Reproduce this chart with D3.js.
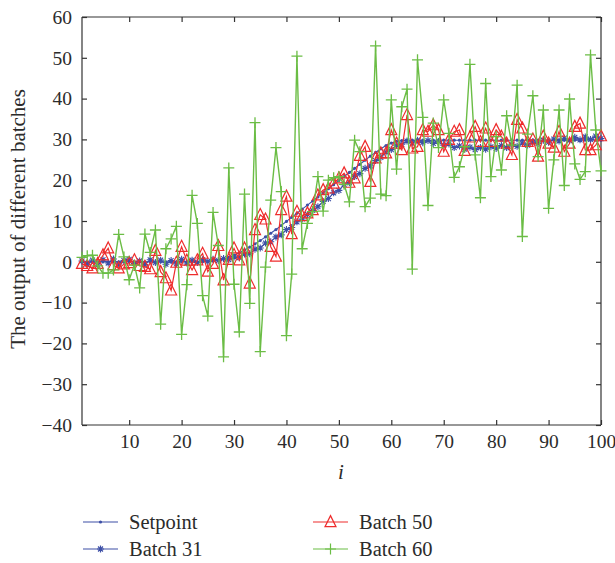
<!DOCTYPE html>
<html><head><meta charset="utf-8">
<script src="https://cdn.jsdelivr.net/npm/d3@7"></script>
<style>body{margin:0;background:#fff}svg{display:block}</style>
</head><body>
<svg id="chart" width="615" height="563"></svg>
<script>
const xTicks = [10,20,30,40,50,60,70,80,90,100];
const yTicks = [-40,-30,-20,-10,0,10,20,30,40,50,60];
const seriesNames = ["Setpoint","Batch 31","Batch 50","Batch 60"];

const setpoint = [0,0,0,0,0,0,0,0,0,0, 0,0,0,0,0,0,0,0,0,0,
  0,0,0,0,0,0.2,0.4,0.7,1.1,1.6, 2.2,2.9,3.6,4.4,5.2,6.1,7.0,7.9,8.9,9.9,
  10.9,11.9,12.9,13.9,14.9,15.9,16.9,17.9,18.9,19.9, 20.9,21.9,22.9,23.9,24.9,25.9,26.8,27.7,28.5,29.1,
  29.5,29.7,29.8,29.8,29.8,29.8,29.8,29.8,29.8,29.8, 29.8,29.8,29.8,29.8,29.8,29.8,29.8,29.8,29.8,29.8,
  29.8,29.8,29.8,29.8,29.8,29.8,29.8,29.8,29.8,29.8, 29.8,29.8,29.8,29.8,29.8,29.8,29.8,29.8,29.8,29.8];

const batch31 = [0.2,-0.6,0.4,-0.8,0.5,-0.3,0.7,-0.5,0.3,0.6, -0.4,0.2,-0.7,0.5,-0.2,0.4,-0.6,0.3,-0.5,0.6,
  -0.3,0.4,-0.2,0.5,0.1,0.6,0.3,0.8,0.5,1.2, 1.0,1.9,2.0,3.1,3.4,4.6,4.9,6.1,6.6,7.9,
  8.4,9.8,10.5,11.6,12.6,13.5,14.8,15.5,16.9,17.5, 18.9,19.4,20.9,21.6,22.9,23.5,24.8,25.6,26.9,27.5,
  28.6,28.8,29.6,29.1,29.8,29.2,29.7,29.0,29.5,28.6, 28.9,28.0,28.4,27.6,28.1,27.5,28.0,27.6,28.2,27.8,
  28.5,28.0,28.8,28.3,29.1,28.6,29.4,29.0,29.8,29.3, 30.1,29.6,30.3,29.7,30.5,29.9,30.6,30.0,30.8,30.2];

const batch50 = [-0.5,-1,-1.6,-0.5,1.6,3.3,-0.8,-1.6,-0.6,-0.3, 0.4,-1,-1.2,-1.8,2.7,-2.5,-4,-7,-0.2,3.7,
  0.3,-2,0.4,2,-2.4,-0.5,3.9,-4.5,0.5,3.3, 0.4,3.3,-5.3,7.8,11.5,10.4,3.7,1.3,12.7,16,
  6.8,12.3,11.2,11.9,12.7,16.3,17.6,18,19.2,20.5, 21.7,19.4,20.5,26,28.2,19.6,25.4,26.6,26.6,32.3,
  29,27.4,36,27.8,28.2,32.3,31.9,33.5,32.3,27, 29.9,31.9,32.3,27.2,30.5,33.1,29.4,32.7,29.4,32.3,
  30.7,29,26.2,34.8,32.7,29.4,30,25.8,30.7,29, 28,31.9,27,29,33.1,33.9,27.4,27.4,28.6,30.8];

const batch60 = [1.1,1.5,1.6,-1,-2.8,-2.8,-2,6.7,1.2,-4.4, -0.8,-6.4,6.8,2.3,7.8,-15.3,3.2,5.6,8.7,-17.8,
  -5.6,16.3,9.4,-8.3,-13.3,12.1,4,-23.3,23,-5.5, -17.2,16.6,-10.2,34.1,-22,-1.3,15.1,28,17.2,-18.1,
  -3,50.4,3.2,9.4,12.3,20.9,12.4,20,20.6,20.9, 19,14.7,29.8,27,13.5,15.6,52.9,16.6,16.2,39.7,
  22.7,38,42.3,-1.8,49.5,35.4,13.8,34,28,39.7, 31.5,20.7,23.3,28.2,48.4,26.2,15.7,43.7,20.9,30.7,
  22.5,35.8,28.6,43.3,6.2,31.3,40.7,25.8,37.2,13.1, 25,37.2,18.7,39.9,24,20.2,22.1,50.7,32.3,22.3];

const colors = {blue:"#3d4fa6", red:"#ee2c2c", green:"#6bbd45", axis:"#333333", text:"#2b2b2b"};
const FF = '"Liberation Serif"';

const svg = d3.select("#chart");
const L = 82, R = 601, T = 17, B = 425;
const idx = d3.range(1, 101);
const x = d3.scaleLinear().domain([1,100]).range([L,R]);
const y = d3.scaleLinear().domain([-40,60]).range([B,T]);

const fmt = d => d < 0 ? "\u2212" + Math.abs(d) : String(d);
const gB = svg.append("g").attr("transform",`translate(0,${B})`)
  .call(d3.axisBottom(x).tickValues(xTicks).tickSize(-5).tickPadding(9));
const gT = svg.append("g").attr("transform",`translate(0,${T})`)
  .call(d3.axisTop(x).tickValues(xTicks).tickSize(-5).tickFormat(""));
const gL = svg.append("g").attr("transform",`translate(${L},0)`)
  .call(d3.axisLeft(y).tickValues(yTicks).tickSize(-5).tickPadding(10).tickFormat(fmt));
const gR = svg.append("g").attr("transform",`translate(${R},0)`)
  .call(d3.axisRight(y).tickValues(yTicks).tickSize(-5).tickFormat(""));
[gB,gT,gL,gR].forEach(g => {
  g.attr("font-family", null).attr("font-size", null);
  g.select(".domain").attr("stroke",colors.axis).attr("stroke-width",1.2);
  g.selectAll(".tick line").attr("stroke",colors.axis).attr("stroke-width",1.2);
  g.selectAll(".tick text").attr("fill",colors.text).attr("font-family",FF).attr("font-size",19.5);
});
gT.select(".domain").attr("d",`M${L},0H${R}`);
gB.select(".domain").attr("d",`M${L},0H${R}`);
gL.select(".domain").attr("d",`M0,${T}V${B}`);
gR.select(".domain").attr("d",`M0,${T}V${B}`);

const line = d3.line().x((d,i)=>x(idx[i])).y(d=>y(d));

const starPath = s => {
  const r = s/2, a = r*0.7071;
  return `M${-r},0L${r},0M0,${-r}L0,${r}M${-a},${-a}L${a},${a}M${-a},${a}L${a},${-a}`;
};
const triPath = s => `M0,${-s*0.58}L${s*0.5},${s*0.42}L${-s*0.5},${s*0.42}Z`;
const plusPath = s => `M${-s/2},0L${s/2},0M0,${-s/2}L0,${s/2}`;

const plot = svg.append("g");

function drawSeries(data, color, lw, marker, opts) {
  plot.append("path").datum(data).attr("d", line)
    .attr("fill","none").attr("stroke",color).attr("stroke-width",lw);
  const g = plot.append("g");
  if (marker === "dot") {
    g.selectAll("circle").data(data).join("circle")
      .attr("cx",(d,i)=>x(idx[i])).attr("cy",d=>y(d)).attr("r",1.6).attr("fill",color);
  } else {
    g.selectAll("path").data(data).join("path")
      .attr("transform",(d,i)=>`translate(${x(idx[i])},${y(d)})`)
      .attr("d", opts.path).attr("fill","none").attr("stroke",color).attr("stroke-width",opts.sw);
  }
}

drawSeries(setpoint, colors.blue, 1.1, "dot");
drawSeries(batch31, colors.blue, 1.1, "star", {path: starPath(7), sw: 1.1});
drawSeries(batch50, colors.red, 1.2, "tri", {path: triPath(11), sw: 1.2});
drawSeries(batch60, colors.green, 1.4, "plus", {path: plusPath(11), sw: 1.3});

svg.append("text").attr("transform",`translate(25,219) rotate(-90)`)
  .attr("text-anchor","middle").attr("fill",colors.text)
  .attr("font-family",FF).attr("font-size",21)
  .text("The output of different batches");
svg.append("text").attr("x",341).attr("y",479).attr("text-anchor","middle")
  .attr("fill",colors.text).attr("font-family",FF).attr("font-size",21).attr("font-style","italic")
  .text("i");

const legendItems = [
  {name: seriesNames[0], color: colors.blue, kind:"dot", x0:83, y0:522},
  {name: seriesNames[1], color: colors.blue, kind:"star", x0:83, y0:549},
  {name: seriesNames[2], color: colors.red, kind:"tri", x0:313, y0:522},
  {name: seriesNames[3], color: colors.green, kind:"plus", x0:313, y0:549}
];
const lg = svg.append("g");
legendItems.forEach(it => {
  const g = lg.append("g").attr("transform",`translate(${it.x0},${it.y0})`);
  g.append("line").attr("x1",0).attr("x2",35).attr("y1",0).attr("y2",0)
    .attr("stroke",it.color).attr("stroke-width",1.2);
  if (it.kind === "dot") g.append("circle").attr("cx",17.5).attr("cy",0).attr("r",1.6).attr("fill",it.color);
  else {
    const p = it.kind==="star" ? starPath(7) : it.kind==="tri" ? triPath(11) : plusPath(11);
    g.append("path").attr("transform","translate(17.5,0)").attr("d",p)
      .attr("fill","none").attr("stroke",it.color).attr("stroke-width",1.2);
  }
  g.append("text").attr("x",46).attr("y",7).attr("fill",colors.text)
    .attr("font-family",FF).attr("font-size",20.5).text(it.name);
});
</script>
</body></html>
